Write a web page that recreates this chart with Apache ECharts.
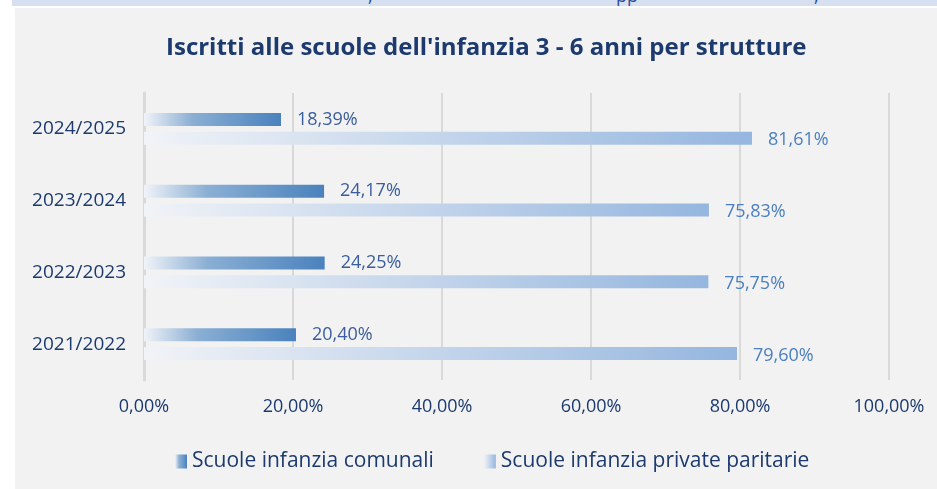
<!DOCTYPE html>
<html>
<head>
<meta charset="utf-8">
<script src="https://cdn.jsdelivr.net/npm/echarts@6/dist/echarts.min.js"></script>
<style>
  body { margin: 0; background: #ffffff; }
  .strip { position: absolute; left: 12px; top: 0; width: 925px; height: 6px; background: #d6e0f1; overflow: hidden; }
  .strip span { position: absolute; top: -17px; font: 18px 'Open Sans', sans-serif; color: #2a4f9a; }
  .panel { position: absolute; left: 15px; top: 8px; width: 922px; height: 481px; background: #f2f2f2; }
  #chart { position: absolute; left: 0; top: 0; width: 937px; height: 489px; }
</style>
</head>
<body>
<div class="strip"><span style="left:356px">,</span><span style="left:604px">pp</span><span style="left:802px">,</span></div>
<div class="panel"></div>
<div id="chart"></div>
<script>
// dati
const anni = ['2021/2022', '2022/2023', '2023/2024', '2024/2025']
const comunali = [20.40, 24.25, 24.17, 18.39]
const private_ = [79.60, 75.75, 75.83, 81.61]
const xTicks = [0, 20, 40, 60, 80, 100]

const fmt = v => Number(v).toFixed(2).replace('.', ',') + '%'
const font = "'Open Sans', sans-serif"

const mychart = echarts.init(document.getElementById('chart'))
mychart.setOption({
  title: {
    text: "Iscritti alle scuole dell'infanzia 3 - 6 anni per strutture",
    left: 161,
    top: 31,
    textStyle: { color: '#1c3a6e', fontSize: 24, fontWeight: 'bold', fontFamily: font }
  },
  legend: {
    left: 170,
    top: 446,
    icon: 'rect',
    itemWidth: 12,
    itemHeight: 14,
    itemGap: 50,
    textStyle: { color: '#1c3a6e', fontSize: 21, fontFamily: font }
  },
  grid: { left: 144, right: 48, top: 93, bottom: 109 },
  xAxis: {
    type: 'value',
    min: xTicks[0],
    max: xTicks[xTicks.length - 1],
    interval: 20,
    axisLine: { show: false },
    axisTick: { show: false },
    axisLabel: { formatter: fmt, color: '#1c3a6e', fontSize: 18, fontFamily: font, margin: 18 },
    splitLine: { lineStyle: { color: '#d9d9d9', width: 2 } }
  },
  yAxis: {
    type: 'category',
    data: anni,
    axisLine: { lineStyle: { color: '#d9d9d9', width: 3 } },
    axisTick: { length: 5, lineStyle: { color: '#d9d9d9', width: 3 } },
    axisLabel: { color: '#1c3a6e', fontSize: 19, fontFamily: font, margin: 18 }
  },
  series: [
    {
      name: 'Scuole infanzia comunali',
      type: 'bar',
      data: comunali,
      barWidth: 13,
      barGap: '46%',
      itemStyle: {
        color: new echarts.graphic.LinearGradient(0, 0, 1, 0, [
          { offset: 0, color: '#f0f3f8' },
          { offset: 0.35, color: '#8bafd4' },
          { offset: 1, color: '#4a82bd' }
        ])
      },
      label: { show: true, position: 'right', distance: 16, formatter: p => fmt(p.value), color: '#3a5d9e', fontSize: 18, fontFamily: font }
    },
    {
      name: 'Scuole infanzia private paritarie',
      type: 'bar',
      data: private_,
      barWidth: 13,
      itemStyle: {
        color: new echarts.graphic.LinearGradient(0, 0, 1, 0, [
          { offset: 0, color: '#f1f3f7' },
          { offset: 1, color: '#95b6df' }
        ])
      },
      label: { show: true, position: 'right', distance: 16, offset: [0, 2], formatter: p => fmt(p.value), color: '#4a7fc0', fontSize: 18, fontFamily: font }
    }
  ]
})
</script>
</body>
</html>
